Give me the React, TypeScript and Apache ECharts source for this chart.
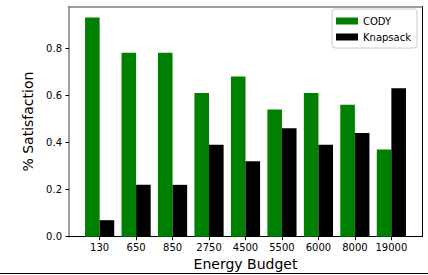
import React, { useEffect, useRef } from "react";
import * as echarts from "echarts";

const categories = ["130", "650", "850", "2750", "4500", "5500", "6000", "8000", "19000"];
const codyValues = [0.93, 0.78, 0.78, 0.61, 0.68, 0.54, 0.61, 0.56, 0.37];
const knapsackValues = [0.07, 0.22, 0.22, 0.39, 0.32, 0.46, 0.39, 0.44, 0.63];
const yTicks = [0, 0.2, 0.4, 0.6, 0.8];

const FONT = "DejaVu Sans";

export default function App() {
  const ref = useRef<HTMLDivElement>(null);
  useEffect(() => {
    if (!ref.current) return;
    const chart = echarts.init(ref.current, null, { renderer: "svg" });
    const xIdx = categories.map((_, i) => i);
    const yMax = Math.max(...codyValues, ...knapsackValues) * 1.05;
    const xMin = -0.84;
    const xMax = categories.length - 1 + 0.84;
    chart.setOption({
      animation: false,
      backgroundColor: "#fff",
      textStyle: { fontFamily: FONT },
      grid: {
        left: 69,
        right: 6,
        top: 6.5,
        bottom: 38.3,
        containLabel: false,
        outerBoundsMode: "none",
      },
      legend: {
        orient: "vertical",
        right: 11,
        top: 9,
        itemWidth: 22,
        itemHeight: 7,
        itemGap: 6,
        padding: [7, 6, 6, 4],
        borderColor: "#cccccc",
        borderWidth: 1,
        borderRadius: 3,
        textStyle: { fontFamily: FONT, fontSize: 10, color: "#000" },
        data: [
          { name: "CODY", icon: "rect" },
          { name: "Knapsack", icon: "rect" },
        ],
      },
      xAxis: [
        {
          type: "value",
          min: xMin,
          max: xMax,
          splitLine: { show: false },
          axisLine: { show: true, onZero: false, lineStyle: { color: "#000", width: 1 } },
          axisTick: {
            show: true,
            length: 3.5,
            customValues: xIdx,
            lineStyle: { color: "#000" },
          },
          axisLabel: {
            customValues: xIdx,
            formatter: (v: number) => categories[Math.round(v)] ?? "",
            fontSize: 10,
            color: "#000",
            margin: 5.5,
            fontFamily: FONT,
          },
          name: "Energy Budget",
          nameLocation: "middle",
          nameGap: 20,
          nameTextStyle: { fontSize: 14, color: "#000", fontFamily: FONT },
        },
        {
          type: "value",
          position: "top",
          min: xMin,
          max: xMax,
          splitLine: { show: false },
          axisLine: { show: true, onZero: false, lineStyle: { color: "#808080", width: 1.5 } },
          axisTick: { show: false },
          axisLabel: { show: false },
        },
      ],
      yAxis: [
        {
          type: "value",
          min: 0,
          max: yMax,
          splitLine: { show: false },
          axisLine: { show: true, onZero: false, lineStyle: { color: "#808080", width: 1.5 } },
          axisTick: {
            show: true,
            length: 3.5,
            customValues: yTicks,
            lineStyle: { color: "#000" },
          },
          axisLabel: {
            customValues: yTicks,
            formatter: (v: number) => v.toFixed(1),
            fontSize: 10,
            color: "#000",
            margin: 7,
            fontFamily: FONT,
          },
          name: "% Satisfaction",
          nameLocation: "middle",
          nameGap: 29,
          nameTextStyle: { fontSize: 14, color: "#000", fontFamily: FONT },
        },
        {
          type: "value",
          position: "right",
          min: 0,
          max: yMax,
          splitLine: { show: false },
          axisLine: { show: true, onZero: false, lineStyle: { color: "#000", width: 1 } },
          axisTick: { show: false },
          axisLabel: { show: false },
        },
      ],
      series: [
        {
          name: "CODY",
          type: "bar",
          xAxisIndex: 0,
          yAxisIndex: 0,
          barWidth: "40%",
          barGap: "0%",
          itemStyle: { color: "#008000" },
          data: codyValues.map((v, i) => [i, v]),
        },
        {
          name: "Knapsack",
          type: "bar",
          xAxisIndex: 0,
          yAxisIndex: 0,
          barWidth: "40%",
          barGap: "0%",
          itemStyle: { color: "#000000" },
          data: knapsackValues.map((v, i) => [i, v]),
        },
      ],
      graphic: [
        {
          type: "line",
          shape: { x1: 0, y1: 273.5, x2: 428, y2: 273.5 },
          style: { stroke: "#000", lineWidth: 1 },
          silent: true,
        },
      ],
    });
    return () => chart.dispose();
  }, []);
  return (
    <div
      ref={ref}
      style={{ position: "fixed", left: 0, top: 0, width: 428, height: 275 }}
    />
  );
}
